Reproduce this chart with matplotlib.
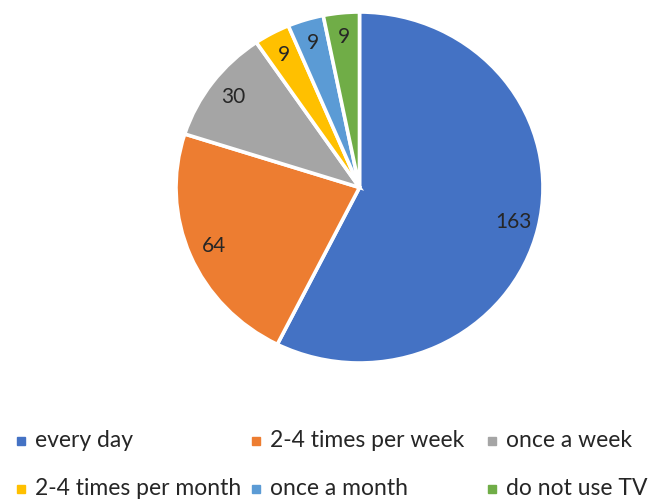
import matplotlib
matplotlib.use("Agg")
import matplotlib.pyplot as plt
from matplotlib.lines import Line2D

categories = ["every day", "2-4 times per week", "once a week",
              "2-4 times per month", "once a month", "do not use TV"]
values = [163, 64, 30, 9, 9, 9]
colors = ["#4472C4", "#ED7D31", "#A5A5A5", "#FFC000", "#5B9BD5", "#70AD47"]

plt.rcParams["font.family"] = ["Lato", "DejaVu Sans"]

W, H = 650, 504
fig = plt.figure(figsize=(W / 100, H / 100), dpi=100)

# pie box in pixels (slightly wider than tall)
left, top, right, bottom = 176, 12, 543, 363
ax = fig.add_axes([left / W, 1 - bottom / H, (right - left) / W, (bottom - top) / H])
wedges, texts = ax.pie(values, colors=colors, startangle=90, counterclock=False,
                       labels=[str(v) for v in values], labeldistance=0.86,
                       wedgeprops=dict(edgecolor="white", linewidth=2.6),
                       textprops=dict(fontsize=15, color="#262626"))
for t in texts:
    t.set_horizontalalignment("center")
    t.set_verticalalignment("center")
ax.set_aspect("auto")
ax.set_xlim(-1, 1)
ax.set_ylim(-1, 1)
ax.axis("off")

# legend laid out as an equal-width grid, three entries per row
col_x = [21, 256, 492]      # marker centres, px
row_y = [441, 489]          # marker centres, px
for k in range(len(categories)):
    r, c = divmod(k, 3)
    mx, my = col_x[c], row_y[r]
    fig.add_artist(Line2D([mx / W], [1 - my / H], transform=fig.transFigure,
                          marker="s", linestyle="none", markersize=6,
                          markerfacecolor=colors[k], markeredgecolor=colors[k]))
    fig.text((mx + 14) / W, 1 - (my + 6) / H, categories[k], fontsize=16.5,
             color="#262626", ha="left", va="baseline")

fig.savefig("out.png", dpi=100)
